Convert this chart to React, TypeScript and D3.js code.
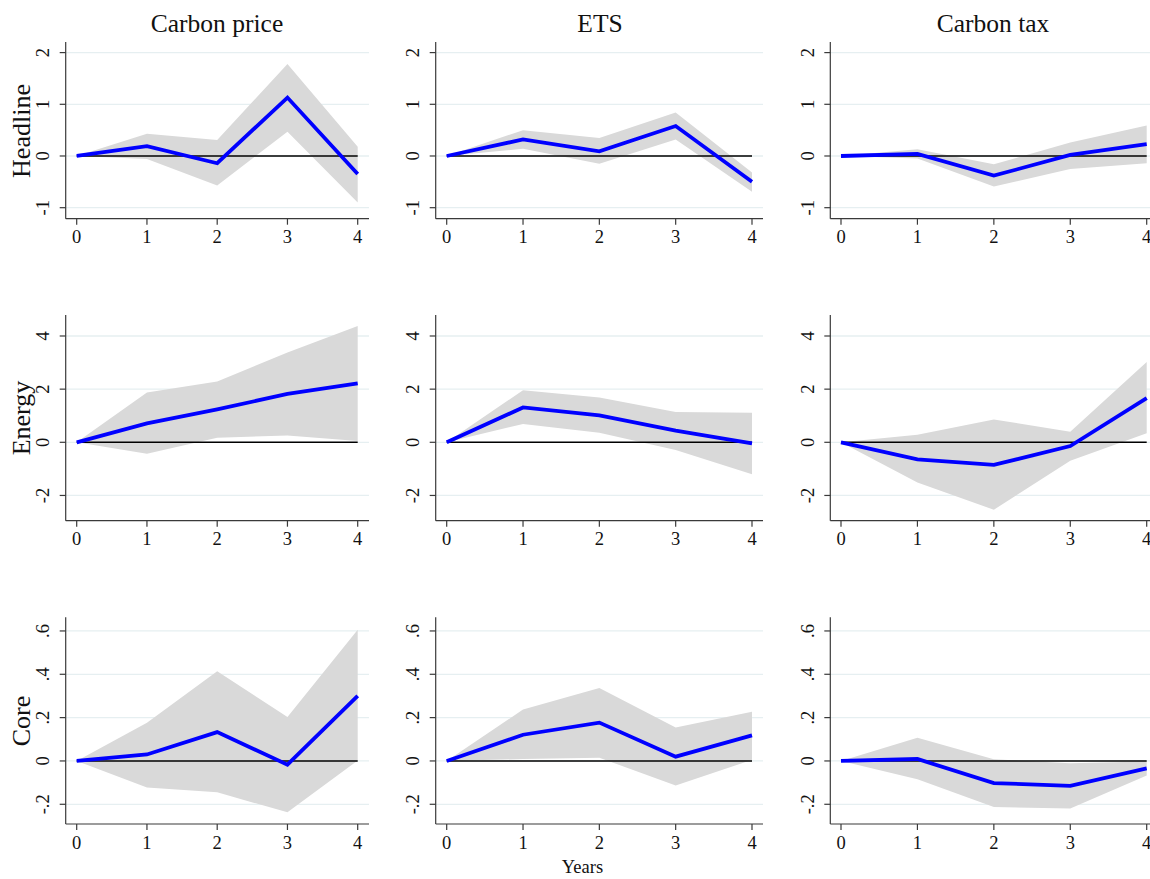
import React from 'react';
import * as d3 from 'd3';

const years = [0, 1, 2, 3, 4];
const columnTitles = ['Carbon price', 'ETS', 'Carbon tax'];
const rowTitles = ['Headline', 'Energy', 'Core'];

const headlineTicks = [-1, 0, 1, 2];
const energyTicks = [-2, 0, 2, 4];
const coreTicks = [-0.2, 0, 0.2, 0.4, 0.6];
const coreTickLabels = ['-.2', '0', '.2', '.4', '.6'];

// Headline
const headlineCarbonPrice = [0, 0.19, -0.14, 1.13, -0.35];
const headlineCarbonPriceLo = [0, -0.06, -0.57, 0.47, -0.9];
const headlineCarbonPriceHi = [0, 0.43, 0.31, 1.78, 0.18];
const headlineETS = [0, 0.32, 0.09, 0.58, -0.5];
const headlineETSLo = [0, 0.14, -0.15, 0.32, -0.69];
const headlineETSHi = [0, 0.5, 0.35, 0.84, -0.32];
const headlineCarbonTax = [0, 0.04, -0.38, 0.02, 0.23];
const headlineCarbonTaxLo = [0, -0.05, -0.59, -0.25, -0.14];
const headlineCarbonTaxHi = [0, 0.13, -0.16, 0.26, 0.59];

// Energy
const energyCarbonPrice = [0, 0.71, 1.24, 1.82, 2.22];
const energyCarbonPriceLo = [0, -0.43, 0.17, 0.26, 0.05];
const energyCarbonPriceHi = [0, 1.87, 2.29, 3.38, 4.38];
const energyETS = [0, 1.31, 1.01, 0.44, -0.04];
const energyETSLo = [0, 0.69, 0.36, -0.29, -1.2];
const energyETSHi = [0, 1.96, 1.69, 1.14, 1.11];
const energyCarbonTax = [0, -0.64, -0.85, -0.14, 1.66];
const energyCarbonTaxLo = [0, -1.51, -2.54, -0.69, 0.34];
const energyCarbonTaxHi = [0, 0.28, 0.86, 0.4, 3.02];

// Core
const coreCarbonPrice = [0, 0.03, 0.133, -0.017, 0.3];
const coreCarbonPriceLo = [0, -0.122, -0.145, -0.237, 0.002];
const coreCarbonPriceHi = [0, 0.176, 0.414, 0.203, 0.605];
const coreETS = [0, 0.121, 0.177, 0.02, 0.118];
const coreETSLo = [0, 0.009, 0.015, -0.113, 0.005];
const coreETSHi = [0, 0.237, 0.337, 0.154, 0.227];
const coreCarbonTax = [0, 0.009, -0.102, -0.115, -0.034];
const coreCarbonTaxLo = [0, -0.084, -0.212, -0.22, -0.067];
const coreCarbonTaxHi = [0, 0.107, 0.008, -0.011, -0.002];

const panels = [
	[
		[headlineCarbonPrice, headlineCarbonPriceLo, headlineCarbonPriceHi],
		[headlineETS, headlineETSLo, headlineETSHi],
		[headlineCarbonTax, headlineCarbonTaxLo, headlineCarbonTaxHi],
	],
	[
		[energyCarbonPrice, energyCarbonPriceLo, energyCarbonPriceHi],
		[energyETS, energyETSLo, energyETSHi],
		[energyCarbonTax, energyCarbonTaxLo, energyCarbonTaxHi],
	],
	[
		[coreCarbonPrice, coreCarbonPriceLo, coreCarbonPriceHi],
		[coreETS, coreETSLo, coreETSHi],
		[coreCarbonTax, coreCarbonTaxLo, coreCarbonTaxHi],
	],
];

const rowAxes = [
	{ ticks: headlineTicks, labels: headlineTicks.map(String), top: 42, bottom: 218.7, domain: [-1.213, 2.205] },
	{ ticks: energyTicks, labels: energyTicks.map(String), top: 315, bottom: 520.7, domain: [-2.95, 4.79] },
	{ ticks: coreTicks, labels: coreTickLabels, top: 617.3, bottom: 824, domain: [-0.291, 0.663] },
];

const colAxes = [
	{ axisX: 65.7, x0: 76.7, x4: 357.7, right: 369, titleX: 217 },
	{ axisX: 435.7, x0: 446.7, x4: 752, right: 763, titleX: 600 },
	{ axisX: 830.3, x0: 841, x4: 1146.7, right: 1150, titleX: 993 },
];

const font = '"Liberation Serif", "Times New Roman", serif';
const axisColor = '#3a3a3a';
const gridColor = '#e6eff1';
const bandColor = '#d9d9d9';

function Panel({ row, col }) {
	const ra = rowAxes[row];
	const ca = colAxes[col];
	const [est, lo, hi] = panels[row][col];
	const x = d3.scaleLinear().domain([0, 4]).range([ca.x0, ca.x4]);
	const y = d3.scaleLinear().domain(ra.domain).range([ra.bottom, ra.top]);

	const area = d3
		.area()
		.x((d, i) => x(years[i]))
		.y0((d, i) => y(lo[i]))
		.y1((d, i) => y(hi[i]));
	const line = d3
		.line()
		.x((d, i) => x(years[i]))
		.y((d) => y(d));

	return (
		<g>
			{ra.ticks.map((t) => (
				<line key={'g' + t} x1={ca.axisX} x2={ca.right} y1={y(t)} y2={y(t)} stroke={gridColor} strokeWidth={1.3} />
			))}
			<path d={area(est)} fill={bandColor} />
			<line x1={x(0)} x2={x(4)} y1={y(0)} y2={y(0)} stroke="#000" strokeWidth={1.4} />
			<path d={line(est)} fill="none" stroke="#0000ff" strokeWidth={3.8} strokeLinejoin="miter" />
			{/* y axis */}
			<line x1={ca.axisX} x2={ca.axisX} y1={ra.top} y2={ra.bottom} stroke={axisColor} strokeWidth={1.2} />
			{ra.ticks.map((t, i) => (
				<g key={'y' + t}>
					<line x1={ca.axisX - 6} x2={ca.axisX} y1={y(t)} y2={y(t)} stroke={axisColor} strokeWidth={1.2} />
					<text
						transform={`translate(${ca.axisX - 16.5},${y(t)}) rotate(-90)`}
						textAnchor="middle"
						fontFamily={font}
						fontSize={18.5}
						fill="#111"
					>
						{ra.labels[i]}
					</text>
				</g>
			))}
			{/* x axis */}
			<line x1={ca.axisX} x2={ca.right} y1={ra.bottom} y2={ra.bottom} stroke={axisColor} strokeWidth={1.2} />
			{years.map((t) => (
				<g key={'x' + t}>
					<line x1={x(t)} x2={x(t)} y1={ra.bottom} y2={ra.bottom + 6} stroke={axisColor} strokeWidth={1.2} />
					<text x={x(t)} y={ra.bottom + 24.5} textAnchor="middle" fontFamily={font} fontSize={18.5} fill="#111">
						{t}
					</text>
				</g>
			))}
		</g>
	);
}

export default function App() {
	const rowCenters = [131, 418, 721];
	return (
		<div style={{ position: 'absolute', left: 0, top: 0 }}>
			<svg width={1150} height={879} style={{ display: 'block', background: '#fff' }}>
				{columnTitles.map((t, c) => (
					<text key={t} x={colAxes[c].titleX} y={32.3} textAnchor="middle" fontFamily={font} fontSize={25.5} fill="#111">
						{t}
					</text>
				))}
				{rowTitles.map((t, r) => (
					<text
						key={t}
						transform={`translate(30,${rowCenters[r]}) rotate(-90)`}
						textAnchor="middle"
						fontFamily={font}
						fontSize={26}
						fill="#111"
					>
						{t}
					</text>
				))}
				{[0, 1, 2].map((r) => [0, 1, 2].map((c) => <Panel key={r + '-' + c} row={r} col={c} />))}
				<text x={582.5} y={873} textAnchor="middle" fontFamily={font} fontSize={18.5} fill="#111">
					Years
				</text>
			</svg>
		</div>
	);
}
